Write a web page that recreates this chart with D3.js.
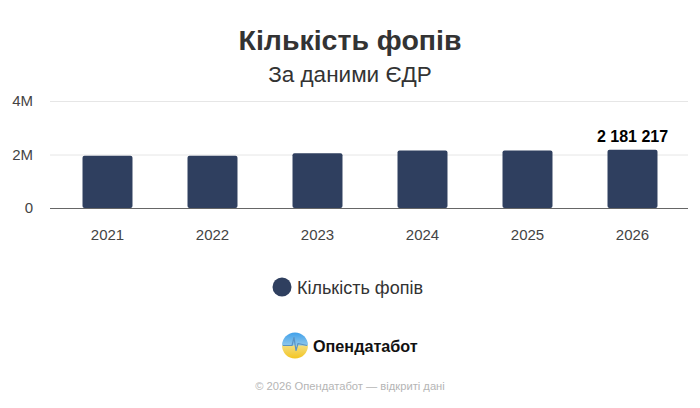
<!DOCTYPE html>
<html>
<head>
<meta charset="utf-8">
<script src="https://cdn.jsdelivr.net/npm/d3@7"></script>
<style>
  body { margin: 0; background: #fff; }
  text { font-family: "Liberation Sans", Arial, sans-serif; }
</style>
</head>
<body>
<div id="chart"></div>
<script>
const WIDTH = 700;
const HEIGHT = 408;
const LEFT = 50;
const RIGHT = 688;
const TOP = 101;
const BOTTOM = 208;
const BAR_COLOR = '#2f3f5f';

const years = ['2021', '2022', '2023', '2024', '2025', '2026'];
const counts = [1950000, 1955000, 2050000, 2145000, 2150000, 2181217];
const yTicks = [0, 2000000, 4000000];
const yTickLabels = ['0', '2M', '4M'];

let svg = d3.select('#chart').append('svg')
  .attr('width', WIDTH)
  .attr('height', HEIGHT);

let x = d3.scaleBand()
  .domain(years)
  .range([55, 685])
  .paddingInner(0.524)
  .paddingOuter(0.262);

let y = d3.scaleLinear()
  .domain([0, 4000000])
  .range([BOTTOM, TOP]);

// title
svg.append('text')
  .attr('x', WIDTH / 2).attr('y', 50)
  .attr('text-anchor', 'middle')
  .attr('font-size', 28.5).attr('font-weight', 'bold')
  .attr('fill', '#333')
  .text('Кількість фопів');

svg.append('text')
  .attr('x', WIDTH / 2).attr('y', 82)
  .attr('text-anchor', 'middle')
  .attr('font-size', 22.5)
  .attr('fill', '#333')
  .text('За даними ЄДР');

// grid
svg.append('g')
  .selectAll('line')
  .data(yTicks.slice(1))
  .enter()
  .append('line')
  .attr('x1', LEFT).attr('x2', RIGHT)
  .attr('y1', (d) => y(d) + 0.5).attr('y2', (d) => y(d) + 0.5)
  .attr('stroke', '#e6e6e6');

svg.append('g')
  .selectAll('text')
  .data(yTicks)
  .enter()
  .append('text')
  .attr('x', 33)
  .attr('y', (d) => y(d) + 5)
  .attr('text-anchor', 'end')
  .attr('font-size', 15)
  .attr('fill', '#444')
  .text((d, i) => yTickLabels[i]);

// bars
svg.append('g')
  .selectAll('rect')
  .data(counts)
  .enter()
  .append('rect')
  .attr('x', (d, i) => x(years[i]))
  .attr('y', (d) => y(d))
  .attr('width', x.bandwidth())
  .attr('height', (d) => y(0) - y(d))
  .attr('rx', 2)
  .attr('fill', BAR_COLOR);

// baseline
svg.append('line')
  .attr('x1', LEFT).attr('x2', RIGHT)
  .attr('y1', y(0) + 0.5).attr('y2', y(0) + 0.5)
  .attr('stroke', '#666');

// x labels
svg.append('g')
  .selectAll('text')
  .data(years)
  .enter()
  .append('text')
  .attr('x', (d) => x(d) + x.bandwidth() / 2)
  .attr('y', 240)
  .attr('text-anchor', 'middle')
  .attr('font-size', 15)
  .attr('fill', '#444')
  .text((d) => d);

// last value label
let last = counts.length - 1;
svg.append('text')
  .attr('x', x(years[last]) + x.bandwidth() / 2)
  .attr('y', y(counts[last]) - 8)
  .attr('text-anchor', 'middle')
  .attr('font-size', 16).attr('font-weight', 'bold')
  .attr('fill', '#000')
  .text(d3.format(',')(counts[last]).replace(/,/g, ' '));

// legend
svg.append('circle')
  .attr('cx', 282).attr('cy', 287).attr('r', 9.5)
  .attr('fill', BAR_COLOR);
svg.append('text')
  .attr('x', 297).attr('y', 294)
  .attr('font-size', 18)
  .attr('fill', '#333')
  .text('Кількість фопів');

// logo
let defs = svg.append('defs');
let grad = defs.append('linearGradient')
  .attr('id', 'logoGrad')
  .attr('x1', 0).attr('y1', 0).attr('x2', 0).attr('y2', 1);
grad.append('stop').attr('offset', '0%').attr('stop-color', '#3fa0ea');
grad.append('stop').attr('offset', '48%').attr('stop-color', '#8cc6ec');
grad.append('stop').attr('offset', '52%').attr('stop-color', '#f3dc7a');
grad.append('stop').attr('offset', '100%').attr('stop-color', '#f4c521');

let logo = svg.append('g').attr('transform', 'translate(295,345.5)');
logo.append('circle').attr('r', 13).attr('fill', 'url(#logoGrad)');
logo.append('path')
  .attr('d', 'M-12,0 L-3,0 L-1,-8 L1,5 L3,-2 L12,0')
  .attr('fill', 'none')
  .attr('stroke', '#5a93c4')
  .attr('stroke-width', 1.2)
  .attr('stroke-linejoin', 'round');

svg.append('text')
  .attr('x', 313).attr('y', 352)
  .attr('font-size', 16.2).attr('font-weight', 'bold')
  .attr('fill', '#111')
  .text('Опендатабот');

// footer
svg.append('text')
  .attr('x', WIDTH / 2).attr('y', 390)
  .attr('text-anchor', 'middle')
  .attr('font-size', 11.2)
  .attr('fill', '#b5b5b5')
  .text('© 2026 Опендатабот — відкриті дані');
</script>
</body>
</html>
